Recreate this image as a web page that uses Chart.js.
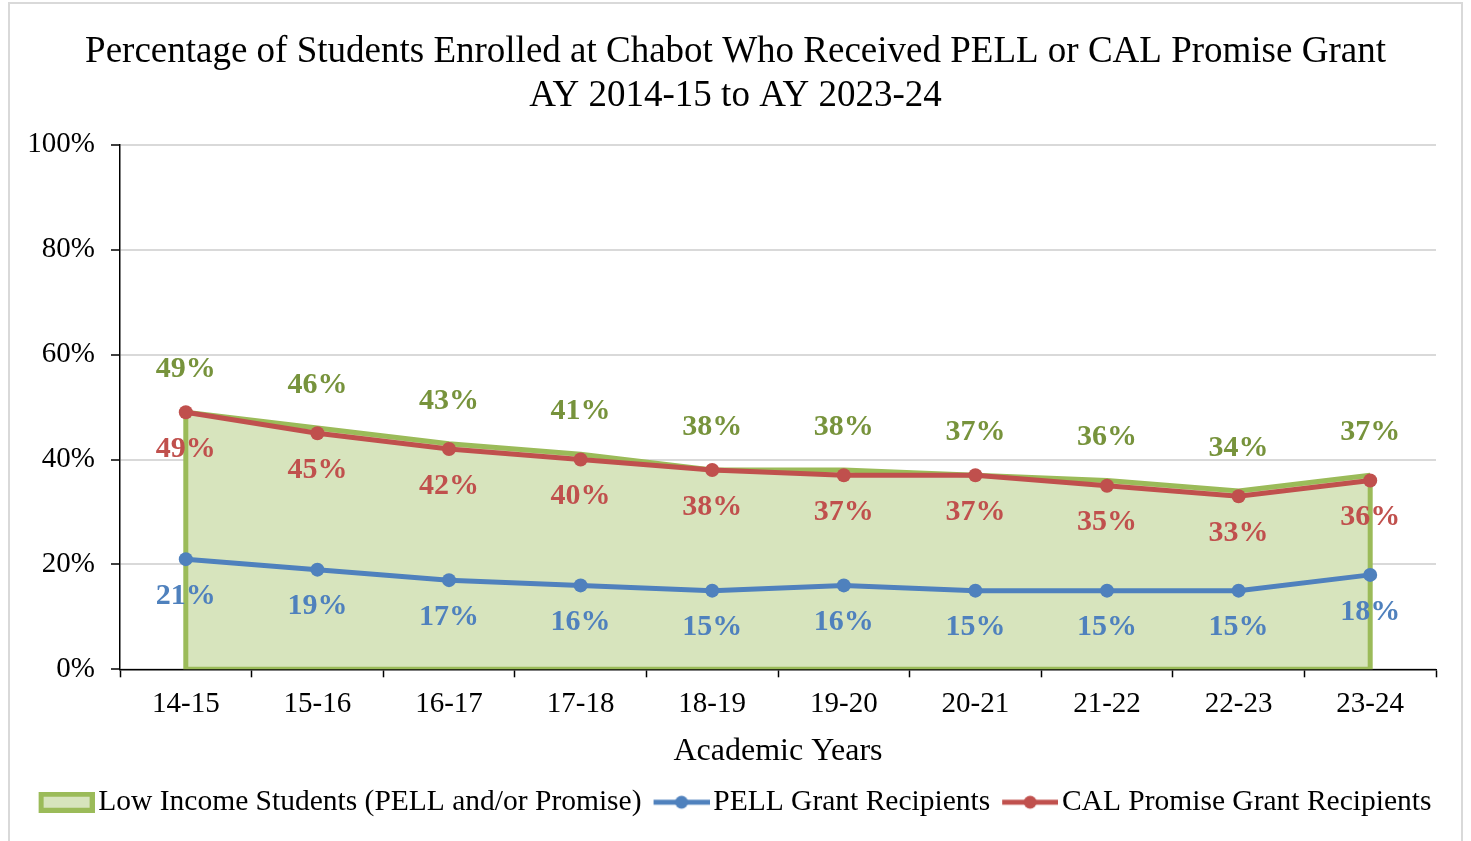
<!DOCTYPE html>
<html><head><meta charset="utf-8">
<script src="https://cdn.jsdelivr.net/npm/chart.js@4/dist/chart.umd.min.js"></script>
<style>
html,body{margin:0;padding:0;background:#fff;overflow:hidden}
#frame{position:absolute;left:8px;top:2px;width:1455px;height:880px;border:2px solid #d9d9d9;box-sizing:border-box}
#wrap{position:absolute;left:0;top:0;width:1471px;height:841px}
</style></head><body>
<div id="frame"></div>
<div id="wrap"><canvas id="c" width="1471" height="841"></canvas></div>
<script>
const titleLines = ['Percentage of Students Enrolled at Chabot Who Received PELL or CAL Promise Grant', 'AY 2014-15 to AY 2023-24'];
const categories = ['14-15','15-16','16-17','17-18','18-19','19-20','20-21','21-22','22-23','23-24'];
const lowIncome = [49,46,43,41,38,38,37,36,34,37];
const pell = [21,19,17,16,15,16,15,15,15,18];
const calPromise = [49,45,42,40,38,37,37,35,33,36];
const seriesNames = ['Low Income Students (PELL and/or Promise)', 'PELL Grant Recipients', 'CAL Promise Grant Recipients'];
const xTitle = 'Academic Years';

const GREEN = '#9bbb59', GREEN_FILL = '#d7e4bd', GREEN_TXT = '#77933c';
const BLUE = '#4f81bd', RED = '#c0504d';
const FONT = "'Liberation Serif', 'Times New Roman', serif";

// legend icons: 66 px wide canvas, drawn content in the right 56 px
function areaIcon() {
  const c = document.createElement('canvas'); c.width = 66; c.height = 21;
  const x = c.getContext('2d');
  x.fillStyle = GREEN_FILL; x.fillRect(10, 0, 56, 21);
  x.strokeStyle = GREEN; x.lineWidth = 5; x.strokeRect(12.5, 2.5, 51, 16);
  return c;
}
function lineIcon(color) {
  const c = document.createElement('canvas'); c.width = 66; c.height = 16;
  const x = c.getContext('2d');
  x.strokeStyle = color; x.lineWidth = 5; x.lineCap = 'butt';
  x.beginPath(); x.moveTo(10, 8); x.lineTo(66, 8); x.stroke();
  x.fillStyle = color; x.beginPath(); x.arc(38, 8, 6.5, 0, Math.PI * 2); x.fill();
  return c;
}
const legendIcons = [areaIcon(), lineIcon(BLUE), lineIcon(RED)];

const areaEdges = {
  id: 'areaEdges',
  afterDatasetDraw(chart, args) {
    if (args.index !== 0) return;
    const xs = chart.scales.x, ys = chart.scales.y, a = chart.chartArea, ctx = chart.ctx;
    const d = chart.data.datasets[0].data, n = d.length;
    ctx.save();
    ctx.beginPath(); ctx.rect(a.left, a.top, a.right - a.left, a.bottom - a.top); ctx.clip();
    ctx.strokeStyle = GREEN; ctx.lineWidth = 5; ctx.lineJoin = 'miter';
    ctx.beginPath();
    ctx.moveTo(xs.getPixelForValue(0), ys.getPixelForValue(d[0]));
    ctx.lineTo(xs.getPixelForValue(0), ys.getPixelForValue(0));
    ctx.lineTo(xs.getPixelForValue(n - 1), ys.getPixelForValue(0));
    ctx.lineTo(xs.getPixelForValue(n - 1), ys.getPixelForValue(d[n - 1]));
    ctx.stroke();
    ctx.restore();
  }
};

const dataLabels = {
  id: 'dataLabels',
  afterDatasetsDraw(chart) {
    const ctx = chart.ctx, xs = chart.scales.x, ys = chart.scales.y;
    ctx.save();
    ctx.font = "bold 30px " + FONT;
    ctx.textAlign = 'center'; ctx.textBaseline = 'middle';
    chart.data.datasets.forEach(ds => {
      ctx.fillStyle = ds.labelColor;
      ds.data.forEach((v, i) => {
        ctx.fillText(v + '%', xs.getPixelForValue(i), ys.getPixelForValue(v) + ds.labelOffset);
      });
    });
    ctx.restore();
  }
};

new Chart(document.getElementById('c'), {
  type: 'line',
  data: {
    labels: categories,
    datasets: [
      { label: seriesNames[0], data: lowIncome, borderColor: GREEN, backgroundColor: GREEN_FILL,
        borderWidth: 5, fill: 'origin', pointRadius: 0, tension: 0, order: 2,
        labelColor: GREEN_TXT, labelOffset: -43 },
      { label: seriesNames[1], data: pell, borderColor: BLUE, backgroundColor: BLUE,
        borderWidth: 5, fill: false, pointRadius: 7, pointBorderWidth: 0, pointBackgroundColor: BLUE, tension: 0, order: 1,
        labelColor: BLUE, labelOffset: 37 },
      { label: seriesNames[2], data: calPromise, borderColor: RED, backgroundColor: RED,
        borderWidth: 5, fill: false, pointRadius: 7, pointBorderWidth: 0, pointBackgroundColor: RED, tension: 0, order: 0,
        labelColor: RED, labelOffset: 37 }
    ]
  },
  options: {
    responsive: false,
    animation: false,
    devicePixelRatio: 1,
    layout: { padding: { left: 0, right: 0, top: 0, bottom: 14 } },
    plugins: {
      tooltip: { enabled: false },
      title: {
        display: true, text: titleLines, color: '#000',
        font: { family: FONT, size: 37, weight: 'normal', lineHeight: 1.2 },
        padding: { top: 30, bottom: 26 }
      },
      legend: {
        position: 'bottom',
        labels: {
          color: '#000', font: { family: FONT, size: 29.5 },
          usePointStyle: true, pointStyleWidth: 44, padding: 13,
          sort: (a, b) => a.datasetIndex - b.datasetIndex,
          generateLabels: (chart) => {
            const items = Chart.defaults.plugins.legend.labels.generateLabels(chart);
            items.forEach(it => { it.pointStyle = legendIcons[it.datasetIndex]; });
            return items;
          }
        }
      }
    },
    scales: {
      x: {
        offset: true,
        grid: { offset: true, drawOnChartArea: false, drawTicks: true, tickLength: 8, tickColor: '#000', tickWidth: 1.5 },
        border: { color: '#000', width: 1.5 },
        ticks: { color: '#000', font: { family: FONT, size: 29 }, padding: 10, maxRotation: 0 },
        title: { display: true, text: xTitle, color: '#000', font: { family: FONT, size: 32 }, padding: { top: 0, bottom: 4 } }
      },
      y: {
        min: 0, max: 100,
        ticks: { stepSize: 20, color: '#000', font: { family: FONT, size: 29 }, padding: 16, callback: v => v + '%' },
        grid: { color: '#d9d9d9', lineWidth: 2, tickLength: 9, tickColor: '#000', tickWidth: 1.5 },
        border: { color: '#000', width: 1.5 },
        afterFit: s => { s.width = 120; }
      },
      yR: {
        position: 'right', display: true,
        grid: { display: false, drawTicks: false }, border: { display: false },
        ticks: { display: false },
        afterFit: s => { s.width = 35; }
      }
    }
  },
  plugins: [areaEdges, dataLabels]
});
</script>
</body></html>
